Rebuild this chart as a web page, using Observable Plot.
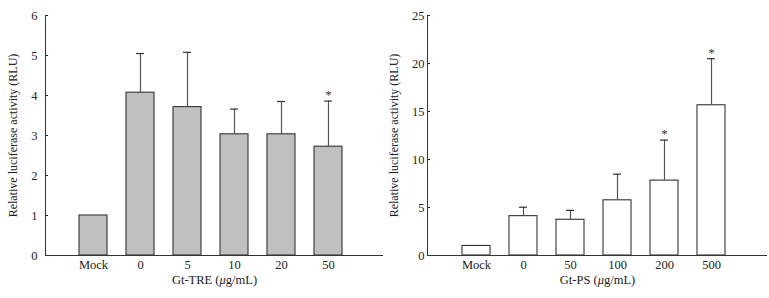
<!DOCTYPE html>
<html>
<head>
<meta charset="utf-8">
<script src="https://cdn.jsdelivr.net/npm/d3@7"></script>
<script src="https://cdn.jsdelivr.net/npm/@observablehq/plot@0.6"></script>
<style>
  body { margin: 0; background: #fff; }
  #wrap { display: flex; width: 769px; height: 298px; }
</style>
</head>
<body>
<div id="wrap"></div>
<script>
// Left panel: Gt-TRE
const treCategories = ["Mock", "0", "5", "10", "20", "50"];
const treMeans = [1.0, 4.07, 3.71, 3.03, 3.03, 2.72];
const treSD = [0.0, 0.98, 1.37, 0.63, 0.82, 1.14];
const treStars = ["50"];
const treYTicks = [0, 1, 2, 3, 4, 5, 6];

// Right panel: Gt-PS
const psCategories = ["Mock", "0", "50", "100", "200", "500"];
const psMeans = [1.0, 4.1, 3.72, 5.75, 7.8, 15.65];
const psSD = [0.0, 0.93, 0.98, 2.72, 4.22, 4.85];
const psStars = ["200", "500"];
const psYTicks = [0, 5, 10, 15, 20, 25];

const yLabel = "Relative luciferase activity (RLU)";

function panel({cats, means, sds, stars, yTicks, yMax, fill, xLabel, width, marginLeft, yLabelOffset, yTickPadding, align, paddingOuter}) {
  const data = cats.map((c, i) => ({cat: c, mean: means[i], top: means[i] + sds[i], star: stars.includes(c)}));
  return Plot.plot({
    width,
    height: 298,
    marginLeft,
    marginRight: 2,
    marginTop: 15,
    marginBottom: 43,
    style: {fontFamily: "'Liberation Serif', 'DejaVu Serif', serif", fontSize: "12.5px", color: "#222", background: "#fff"},
    x: {domain: cats, paddingInner: 0.4, paddingOuter, align},
    y: {domain: [0, yMax]},
    marks: [
      Plot.barY(data, {x: "cat", y: "mean", fill, stroke: "#333", strokeWidth: 1.1}),
      Plot.ruleX(data, {x: "cat", y1: "mean", y2: "top", stroke: "#555", strokeWidth: 1.2}),
      Plot.tickY(data.filter(d => d.top > d.mean), {x: "cat", y: "top", stroke: "#333", strokeWidth: 1.2, insetLeft: 10, insetRight: 10}),
      Plot.text(data.filter(d => d.star), {x: "cat", y: "top", text: () => "*", dy: -6, fontSize: 13, fill: "#333"}),
      Plot.axisX({tickSize: 0, tickPadding: 5, label: xLabel, labelAnchor: "center", labelArrow: "none", labelOffset: 28}),
      Plot.axisY({ticks: yTicks, tickSize: -3, tickPadding: yTickPadding, tickFormat: d => String(d), label: yLabel, labelAnchor: "center", labelArrow: "none", labelOffset: yLabelOffset, fontSize: 12.5}),
      Plot.ruleY([0], {stroke: "#333"}),
      Plot.frame({anchor: "left", stroke: "#333"})
    ]
  });
}

function fixLabels(svg) {
  d3.select(svg).selectAll("text").each(function () {
    const t = d3.select(this);
    const s = t.text();
    if (s.includes("(μg/mL)") && this.children.length === 0) {
      const [pre, post] = s.split("μ");
      t.text(null);
      t.append("tspan").text(pre);
      t.append("tspan").attr("font-style", "italic").text("μ");
      t.append("tspan").text(post);
    }
    if (s === yLabel) t.attr("font-size", 12);
  });
}

const left = panel({
  cats: treCategories, means: treMeans, sds: treSD, stars: treStars, yTicks: treYTicks, yMax: 6,
  fill: "#c0c0c0", xLabel: "Gt-TRE (μg/mL)", width: 385, marginLeft: 45, yLabelOffset: 37, yTickPadding: 11,
  align: 0.46, paddingOuter: 0.77
});
const right = panel({
  cats: psCategories, means: psMeans, sds: psSD, stars: psStars, yTicks: psYTicks, yMax: 25,
  fill: "#fff", xLabel: "Gt-PS (μg/mL)", width: 384, marginLeft: 42, yLabelOffset: 38, yTickPadding: 6,
  align: 0.455, paddingOuter: 0.755
});
[left, right].forEach(fixLabels);
document.getElementById("wrap").append(left, right);
</script>
</body>
</html>
